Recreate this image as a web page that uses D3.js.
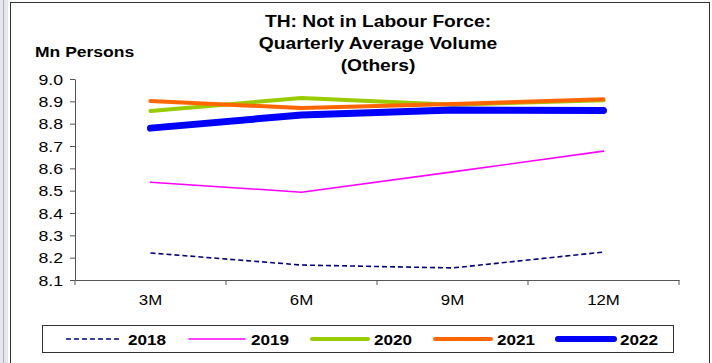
<!DOCTYPE html>
<html><head><meta charset="utf-8">
<script src="https://cdn.jsdelivr.net/npm/d3@7"></script>
<style>body{margin:0;background:#fff}svg{display:block;font-family:"Liberation Sans",Arial,sans-serif}</style>
</head><body><svg id="c" width="712" height="363"></svg>
<script>
const categories = ["3M","6M","9M","12M"];
const years = ["2018","2019","2020","2021","2022"];
const v2018 = [8.221, 8.167, 8.154, 8.225];
const v2019 = [8.538, 8.493, 8.584, 8.677];
const v2020 = [8.857, 8.915, 8.885, 8.905];
const v2021 = [8.902, 8.870, 8.888, 8.909];
const v2022 = [8.780, 8.839, 8.861, 8.859];
const yTicks = [8.1,8.2,8.3,8.4,8.5,8.6,8.7,8.8,8.9,9.0];
const titleLines = ["TH: Not in Labour Force:","Quarterly Average Volume","(Others)"];
const yLabel = "Mn Persons";

(function(){
const styles = {
  "2018": {color:"#000080", width:1.6, dash:"5,3"},
  "2019": {color:"#ff00ff", width:1.6, dash:null},
  "2020": {color:"#99cc00", width:4, dash:null},
  "2021": {color:"#ff6600", width:4, dash:null},
  "2022": {color:"#0000ff", width:7, dash:null}
};
const seriesData = {"2018":v2018,"2019":v2019,"2020":v2020,"2021":v2021,"2022":v2022};
function stretch(sel, k){
  sel.each(function(){
    const w=this.getComputedTextLength();
    d3.select(this).attr("textLength",w*k).attr("lengthAdjust","spacingAndGlyphs");
  });
}

const svg = d3.select("#c");
svg.append("rect").attr("x",0).attr("y",0).attr("width",8).attr("height",363).attr("fill","#e6e6ee");
svg.append("line").attr("x1",3.5).attr("x2",3.5).attr("y1",0).attr("y2",363).attr("stroke","#b0b0c0");
svg.append("rect").attr("x",10.5).attr("y",2.5).attr("width",699).attr("height",380)
  .attr("fill","none").attr("stroke","#333").attr("stroke-width",1);

const pl=75, pr=679, pt=79, pb=280;
const x = d3.scaleBand().domain(categories).range([pl,pr]);
const y = d3.scaleLinear().domain([8.1,9.0]).range([pb,pt]);

const t = svg.append("text").attr("text-anchor","middle").attr("font-weight","bold").attr("font-size",16).attr("fill","#000");
titleLines.forEach((s,i)=>t.append("tspan").attr("x",378).attr("y",27+i*22).text(s));
stretch(t.selectAll("tspan"),1.2);
const yl = svg.append("text").attr("x",35).attr("y",57).attr("font-weight","bold").attr("font-size",14).text(yLabel);
stretch(yl,1.25);

const ya = svg.append("g").attr("transform",`translate(${pl},0)`)
  .call(d3.axisLeft(y).tickValues(yTicks).tickFormat(d3.format(".1f")).tickSize(5).tickSizeOuter(0));
ya.select(".domain").attr("stroke","#555");
ya.selectAll(".tick line").attr("stroke","#555");
ya.selectAll("text").attr("font-size",14.5).attr("fill","#000").attr("font-family","Liberation Sans, Arial").attr("dx","-4").attr("dy","0.36em");
stretch(ya.selectAll("text"),1.22);

const xa = svg.append("g").attr("transform",`translate(0,${pb})`)
  .call(d3.axisBottom(x).tickSize(0).tickSizeOuter(0));
xa.select(".domain").attr("stroke","#555");
xa.selectAll("text").attr("font-size",15).attr("fill","#000").attr("dy","1.45em").attr("font-family","Liberation Sans, Arial");
stretch(xa.selectAll("text"),1.12);
const bounds = categories.map(c=>x(c)).concat([x(categories[categories.length-1])+x.bandwidth()]);
xa.selectAll(".bt").data(bounds).enter().append("line").attr("x1",d=>d).attr("x2",d=>d).attr("y1",0).attr("y2",5).attr("stroke","#555");

const line = d3.line().x((d,i)=>x(categories[i])+x.bandwidth()/2).y(d=>y(d));
years.forEach(yr=>{
  const st=styles[yr];
  const p = svg.append("path").datum(seriesData[yr]).attr("d",line).attr("fill","none")
    .attr("stroke",st.color).attr("stroke-width",st.width).attr("stroke-linecap","round").attr("stroke-linejoin","round");
  if(st.dash) p.attr("stroke-dasharray",st.dash).attr("stroke-linecap","butt");
});

const lg = svg.append("g");
lg.append("rect").attr("x",42.5).attr("y",325.5).attr("width",631).attr("height",27).attr("fill","#fff").attr("stroke","#333");
const lx = d3.scalePoint().domain(years).range([66,558]);
years.forEach(yr=>{
  const st=styles[yr]; const x0=lx(yr);
  const l = lg.append("line").attr("x1",x0).attr("x2",x0+56).attr("y1",339).attr("y2",339)
    .attr("stroke",st.color).attr("stroke-width",Math.min(st.width,6)).attr("stroke-linecap","round");
  if(st.dash) l.attr("stroke-dasharray",st.dash).attr("stroke-linecap","butt");
  const tx = lg.append("text").attr("x",x0+62).attr("y",344.5).attr("font-weight","bold").attr("font-size",14.5).text(yr);
  stretch(tx,1.18);
});
})();
</script></body></html>
